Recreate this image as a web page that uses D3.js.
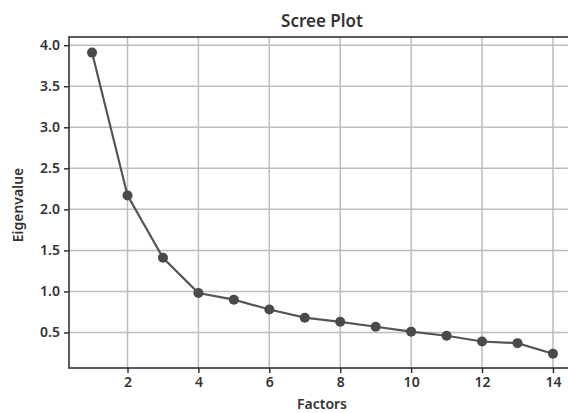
<!DOCTYPE html>
<html>
<head>
<meta charset="utf-8">
<script src="https://cdn.jsdelivr.net/npm/d3@7"></script>
<style>
  body { margin: 0; background: #fff; }
  text { font-family: "Noto Sans", sans-serif; fill: #333; }
</style>
</head>
<body>
<div id="chart"></div>
<script>
// Scree plot data
const factors = [1, 2, 3, 4, 5, 6, 7, 8, 9, 10, 11, 12, 13, 14];
const eigenvalues = [3.91, 2.17, 1.41, 0.98, 0.90, 0.78, 0.68, 0.63, 0.57, 0.51, 0.46, 0.39, 0.37, 0.24];
const xTicks = [2, 4, 6, 8, 10, 12, 14];
const yTicks = [0.5, 1.0, 1.5, 2.0, 2.5, 3.0, 3.5, 4.0];

const width = 568;
const height = 413;
const margin = { top: 37, right: -8, bottom: 45, left: 69 };

const svg = d3.select('#chart').append('svg')
    .attr('width', width)
    .attr('height', height);

// Scales (matplotlib style 5% padding)
const x = d3.scaleLinear()
    .domain([0.35, 14.65])
    .range([margin.left, width - margin.right]);

const y = d3.scaleLinear()
    .domain([0.067, 4.1])
    .range([height - margin.bottom, margin.top]);

// Grid lines
svg.append('g')
    .selectAll('line.vgrid')
    .data(xTicks)
    .enter().append('line')
    .attr('x1', d => x(d)).attr('x2', d => x(d))
    .attr('y1', margin.top).attr('y2', height - margin.bottom)
    .style('stroke', '#bdbdbd')
    .style('stroke-width', 1.5);

svg.append('g')
    .selectAll('line.hgrid')
    .data(yTicks)
    .enter().append('line')
    .attr('x1', margin.left).attr('x2', width - margin.right)
    .attr('y1', d => y(d)).attr('y2', d => y(d))
    .style('stroke', '#bdbdbd')
    .style('stroke-width', 1.5);

// Axes
const xAxis = svg.append('g')
    .attr('transform', `translate(0,${height - margin.bottom})`)
    .call(d3.axisBottom(x).tickValues(xTicks).tickSize(5).tickPadding(4).tickFormat(d3.format('d')));

const yAxis = svg.append('g')
    .attr('transform', `translate(${margin.left},0)`)
    .call(d3.axisLeft(y).tickValues(yTicks).tickSize(5).tickPadding(4).tickFormat(d3.format('.1f')));

[xAxis, yAxis].forEach(function(g) {
    g.select('.domain').remove();
    g.selectAll('.tick line').style('stroke', '#333').style('stroke-width', 1.5);
    g.selectAll('.tick text')
        .style('font-size', '14px')
        .style('font-weight', '600')
        .style('fill', '#333');
});

// Frame (spines)
svg.append('rect')
    .attr('x', margin.left)
    .attr('y', margin.top)
    .attr('width', width - margin.right - margin.left)
    .attr('height', height - margin.bottom - margin.top)
    .style('fill', 'none')
    .style('stroke', '#333')
    .style('stroke-width', 1.6);

// Line
const line = d3.line()
    .x((d, i) => x(factors[i]))
    .y(d => y(d));

svg.append('path')
    .datum(eigenvalues)
    .attr('d', line)
    .style('fill', 'none')
    .style('stroke', '#555')
    .style('stroke-width', 2.2);

// Points
svg.selectAll('.dot')
    .data(eigenvalues)
    .enter().append('circle')
    .attr('class', 'dot')
    .attr('cx', (d, i) => x(factors[i]))
    .attr('cy', d => y(d))
    .attr('r', 5)
    .style('fill', '#4a4a4a');

// Title and labels
svg.append('text')
    .attr('x', 322)
    .attr('y', 27)
    .attr('text-anchor', 'middle')
    .style('font-size', '17px')
    .style('font-weight', '600')
    .text('Scree Plot');

svg.append('text')
    .attr('x', 322)
    .attr('y', 409)
    .attr('text-anchor', 'middle')
    .style('font-size', '14px')
    .style('font-weight', '600')
    .text('Factors');

svg.append('text')
    .attr('transform', 'translate(23,205) rotate(-90)')
    .attr('text-anchor', 'middle')
    .style('font-size', '14px')
    .style('font-weight', '600')
    .text('Eigenvalue');
</script>
</body>
</html>
